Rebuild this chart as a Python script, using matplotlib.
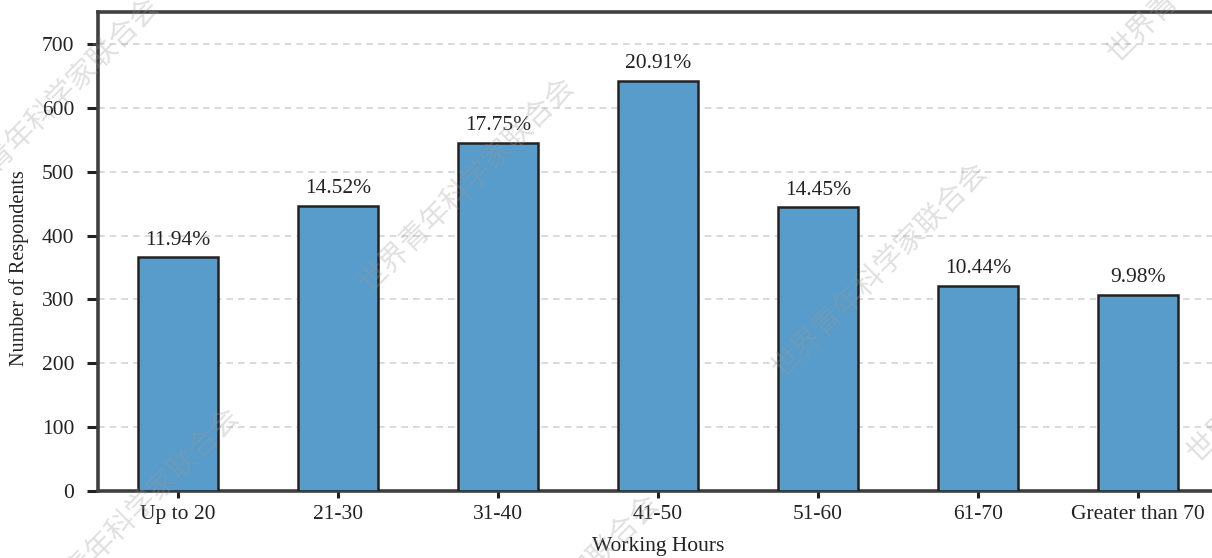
import matplotlib
matplotlib.use("Agg")
import matplotlib.pyplot as plt
import numpy as np

categories = ["Up to 20", "21-30", "31-40", "41-50", "51-60", "61-70", "Greater than 70"]
respondents = [366, 446, 545, 642, 444, 321, 307]
share_labels = ["11.94%", "14.52%", "17.75%", "20.91%", "14.45%", "10.44%", "9.98%"]
y_ticks = [0, 100, 200, 300, 400, 500, 600, 700]
watermark = "世界青年科学家联合会"

W, H = 1212, 558
fig = plt.figure(figsize=(W / 100, H / 100), dpi=100)
ax_w = 1218 - 98
ax_h = 491 - 12
ax = fig.add_axes([98 / W, 1 - 491 / H, ax_w / W, ax_h / H])

serif = ["Liberation Serif", "DejaVu Serif"]
ink = "#222222"
x = np.arange(len(categories))
ax.bar(x, respondents, width=0.5, color="#579CCA", edgecolor=ink,
       linewidth=1.8, zorder=3)

for xi, v, lab in zip(x, respondents, share_labels):
    ax.text(xi, v + 12, lab, ha="center", va="bottom", fontsize=15.5,
            family=serif, color=ink, zorder=4)

ax.set_xlim(-0.5, 6.5)
ax.set_ylim(0, 750)
ax.set_yticks(y_ticks)
ax.set_xticks(x)
ax.set_xticklabels(categories)
ax.yaxis.grid(True, linestyle=(0, (4, 3)), color="#d4d4d4", linewidth=1.2, zorder=0)
ax.set_axisbelow(True)

for side in ["top", "left", "bottom"]:
    ax.spines[side].set_color("#404040")
    ax.spines[side].set_linewidth(2.6)
ax.spines["right"].set_visible(False)

ax.tick_params(axis="y", direction="out", length=8, width=2.2, color=ink,
               labelsize=15.5, pad=9)
ax.tick_params(axis="x", direction="out", length=5, width=2.2, color=ink,
               labelsize=15.5, pad=5)
for lbl in ax.get_xticklabels() + ax.get_yticklabels():
    lbl.set_family(serif)
    lbl.set_color(ink)

ax.set_ylabel("Number of Respondents", fontsize=14.5, family=serif, color=ink)
ax.yaxis.set_label_coords((19 - 98) / ax_w, (491 - 268) / ax_h)
ax.set_xlabel("Working Hours", fontsize=15.5, family=serif, color=ink)
ax.xaxis.set_label_coords((658 - 98) / ax_w, -(546 - 491) / ax_h)
ax.xaxis.label.set_va("center")
ax.yaxis.label.set_va("center")

# diagonal watermark tiles (pixel centres in figure space)
centres = [(52, 105), (467, 185), (880, 270), (1215, -45), (1295, 355),
           (132, 515), (552, 602)]
for cx, cy in centres:
    fig.text(cx / W, 1 - cy / H, watermark, rotation=45, ha="center", va="center",
             rotation_mode="anchor", fontsize=21, family=["Noto Sans CJK SC"],
             color="#9a9a9a", alpha=0.3, zorder=10)

fig.savefig("out.png", dpi=100)
